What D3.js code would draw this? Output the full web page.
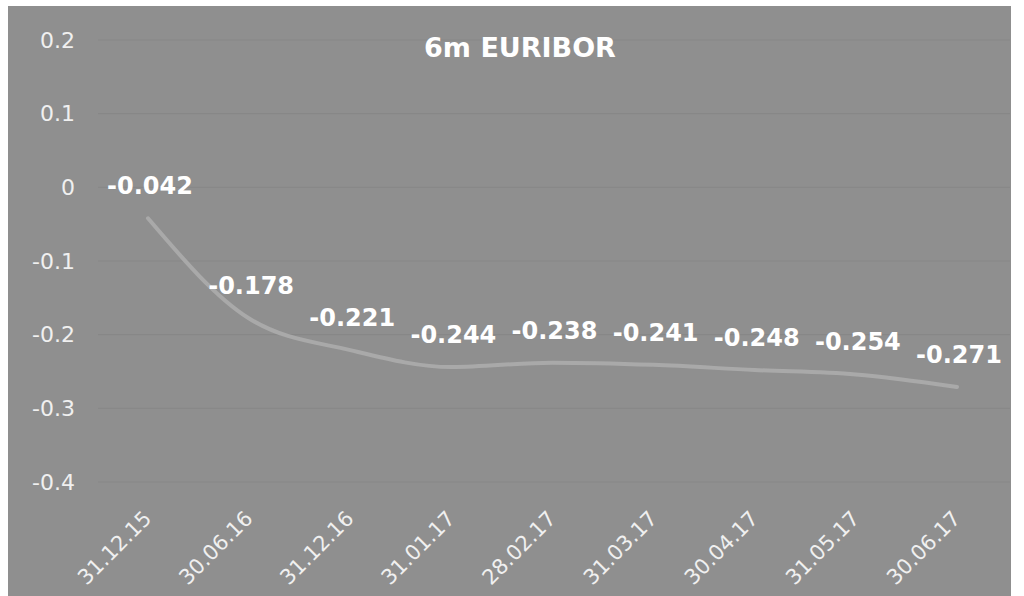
<!DOCTYPE html>
<html>
<head>
<meta charset="utf-8">
<script src="https://cdn.jsdelivr.net/npm/d3@7"></script>
<style>
  body { margin: 0; background: #fff; }
  svg { display: block; font-family: "DejaVu Sans", Verdana, sans-serif; }
</style>
</head>
<body>
<div id="chart"></div>
<script>
var dates = ["31.12.15", "30.06.16", "31.12.16", "31.01.17", "28.02.17", "31.03.17", "30.04.17", "31.05.17", "30.06.17"];
var rates = [-0.042, -0.178, -0.221, -0.244, -0.238, -0.241, -0.248, -0.254, -0.271];
var yTicks = [0.2, 0.1, 0, -0.1, -0.2, -0.3, -0.4];

var W = 1024, H = 596;

var svg = d3.select("#chart").append("svg")
    .attr("width", W)
    .attr("height", H);

// scanned grey panel
svg.append("rect")
    .attr("x", 8).attr("y", 6)
    .attr("width", 1003).attr("height", H - 6)
    .attr("fill", "#8f8f8f");

var x = d3.scalePoint()
    .domain(dates)
    .range([148, 957]);

var y = d3.scaleLinear()
    .domain([-0.4, 0.2])
    .range([482, 40]);

// gridlines (faint)
svg.append("g")
  .selectAll("line")
  .data(yTicks)
  .enter().append("line")
    .attr("x1", 98).attr("x2", 1010)
    .attr("y1", d => y(d)).attr("y2", d => y(d))
    .attr("stroke", "#878787")
    .attr("stroke-width", 1);

// y axis labels
var yAxis = svg.append("g")
    .attr("transform", "translate(75,0)")
    .call(d3.axisLeft(y).tickValues(yTicks).tickSize(0).tickPadding(0)
      .tickFormat(d => String(+d.toFixed(1))));
yAxis.select(".domain").remove();
yAxis.selectAll("text")
    .attr("fill", "#f0f0f0")
    .style("font-size", "22px")
    .style("font-family", "DejaVu Sans, Verdana, sans-serif");

// x axis labels
var xAxis = svg.append("g")
    .attr("transform", "translate(0,524)")
    .call(d3.axisBottom(x).tickSize(0).tickPadding(0));
xAxis.select(".domain").remove();
xAxis.selectAll("text")
    .attr("fill", "#f0f0f0")
    .attr("text-anchor", "end")
    .attr("dy", "0")
    .attr("dx", "6")
    .attr("transform", "rotate(-45)")
    .style("font-size", "21px")
    .style("font-family", "DejaVu Sans, Verdana, sans-serif");

// the line
var line = d3.line()
    .x((d, i) => x(dates[i]))
    .y(d => y(d))
    .curve(d3.curveMonotoneX);

svg.append("path")
    .datum(rates)
    .attr("d", line)
    .attr("fill", "none")
    .attr("stroke", "#a9a9a9")
    .attr("stroke-width", 4)
    .attr("stroke-linecap", "round");

// value labels
svg.append("g")
  .selectAll("text")
  .data(rates)
  .enter().append("text")
    .attr("x", (d, i) => x(dates[i]) + 2)
    .attr("y", d => y(d) - 24)
    .attr("text-anchor", "middle")
    .attr("fill", "#ffffff")
    .style("font-size", "24px")
    .style("font-weight", "bold")
    .text(d => d.toFixed(3));

// title
svg.append("text")
    .attr("x", 520).attr("y", 57)
    .attr("text-anchor", "middle")
    .attr("fill", "#ffffff")
    .style("font-size", "27px")
    .style("font-weight", "bold")
    .text("6m EURIBOR");
</script>
</body>
</html>
